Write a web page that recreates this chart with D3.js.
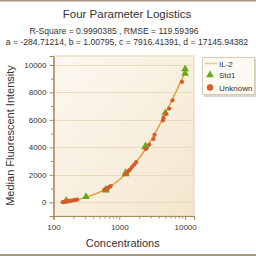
<!DOCTYPE html>
<html>
<head>
<meta charset="utf-8">
<script src="https://cdn.jsdelivr.net/npm/d3@7"></script>
<style>
  body { margin: 0; background: #fff; }
  svg { display: block; font-family: "Liberation Sans", Arial, sans-serif; }
  .tick text { fill: #333; }
</style>
</head>
<body>
<svg id="chart" width="256" height="256"></svg>
<script>
// SETUP: dimensions
const margin = { top: 56, right: 62, bottom: 40, left: 53.5 },
      width = 256 - margin.left - margin.right,
      height = 256 - margin.top - margin.bottom;

// DATA
// fitted IL-2 curve
const curveConc = [140, 200, 300, 500, 700, 1000, 1500, 2000, 3000, 4000, 5000, 6000, 7000, 8000, 9000, 10000];
const curveMfi  = [9, 133, 336, 730, 1106, 1641, 2461, 3200, 4479, 5545, 6448, 7222, 7891, 8477, 8993, 9452];

// Std1 triangles
const stdConc = [156, 156, 312, 625, 625, 1250, 1250, 2500, 2500, 5000, 10000, 10000];
const stdMfi  = [120, 90, 400, 880, 920, 2060, 2150, 4000, 4100, 6500, 9700, 9380];

// Unknown circles
const unkConc = [138, 145, 150, 158, 165, 172, 180, 190, 200, 215, 228,
                 590, 620, 660, 700, 740,
                 1230, 1300, 1380, 1450, 1560, 1680, 1800,
                 2535, 2845, 3310, 3430, 4600, 4700, 5110, 5730, 6440, 8940];
const unkMfi  = [5, 20, 40, 60, 70, 95, 110, 130, 140, 170, 190,
                 900, 960, 1010, 1100, 1180,
                 2040, 2150, 2280, 2380, 2560, 2740, 2920,
                 3870, 4180, 4600, 4910, 5960, 6140, 6430, 6820, 7420, 8760];

const yTicks = [0, 2000, 4000, 6000, 8000, 10000];
const xTicks = [100, 1000, 10000];
const legendLabels = ["IL-2", "Std1", "Unknown"];

const title = "Four Parameter Logistics";
const subtitle1 = "R-Square = 0.9990385 , RMSE = 119.59396";
const subtitle2 = "a = -284.71214, b = 1.00795, c = 7916.41391, d = 17145.94382";

const svg = d3.select("#chart");

// frame lines top and bottom
svg.append("rect").attr("x", 0).attr("y", 0).attr("width", 256).attr("height", 1.5).attr("fill", "#a89883");
svg.append("rect").attr("x", 0).attr("y", 254).attr("width", 256).attr("height", 2).attr("fill", "#a89883");

// titles
svg.append("text").attr("x", 127).attr("y", 18).attr("text-anchor", "middle")
    .attr("font-size", 11.5).attr("fill", "#333").text(title);
svg.append("text").attr("x", 114).attr("y", 34).attr("text-anchor", "middle")
    .attr("font-size", 8.6).attr("fill", "#333").text(subtitle1);
svg.append("text").attr("x", 127).attr("y", 45).attr("text-anchor", "middle")
    .attr("font-size", 8.6).attr("fill", "#333").text(subtitle2);

// background gradient
const defs = svg.append("defs");
const grad = defs.append("linearGradient").attr("id", "bg")
    .attr("x1", "0%").attr("y1", "0%").attr("x2", "100%").attr("y2", "100%");
grad.append("stop").attr("offset", "0%").attr("stop-color", "#fcf8f1");
grad.append("stop").attr("offset", "100%").attr("stop-color", "#f4e6cd");

const g = svg.append("g").attr("transform", `translate(${margin.left},${margin.top})`);

// SCALES
const x = d3.scaleLog().domain([100, 13650]).range([0, width]);
const y = d3.scaleLinear().domain([-1000, 10650]).range([height, 0]);

g.append("rect").attr("width", width).attr("height", height).attr("fill", "url(#bg)")
    .attr("stroke", "#e3d3b4").attr("stroke-width", 1);

// gridlines
g.selectAll(".grid").data(yTicks).enter().append("line")
    .attr("x1", 0).attr("x2", width)
    .attr("y1", d => Math.round(y(d)) + 0.5).attr("y2", d => Math.round(y(d)) + 0.5)
    .attr("stroke", "#e9dbbf").attr("stroke-width", 1);

// AXES
const axisColor = "#a8895c";
const yMinor = d3.range(-1000, 10001, 1000).filter(d => !yTicks.includes(d));
g.append("g").call(d3.axisLeft(y).tickValues(yMinor).tickSize(2.5).tickFormat(""))
    .call(a => a.selectAll("line,path").attr("stroke", axisColor));
g.append("g").call(d3.axisLeft(y).tickValues(yTicks).tickSize(4).tickPadding(3).tickFormat(d3.format("d")))
    .attr("font-size", 8).attr("font-family", null)
    .call(a => a.selectAll("line,path").attr("stroke", axisColor));

const xMinor = [];
[100, 1000, 10000].forEach(p => d3.range(2, 10).forEach(k => { if (p * k < 13650) xMinor.push(p * k); }));
g.append("g").attr("transform", `translate(0,${height})`)
    .call(d3.axisBottom(x).tickValues(xMinor).tickSize(2.5).tickFormat(""))
    .call(a => a.selectAll("line,path").attr("stroke", axisColor));
g.append("g").attr("transform", `translate(0,${height})`)
    .call(d3.axisBottom(x).tickValues(xTicks).tickSize(4).tickPadding(4).tickFormat(d3.format("d")))
    .attr("font-size", 8).attr("font-family", null)
    .call(a => a.selectAll("line,path").attr("stroke", axisColor));

// axis labels
g.append("text").attr("x", width / 2 - 1).attr("y", height + 31).attr("text-anchor", "middle")
    .attr("font-size", 11).attr("fill", "#333").text("Concentrations");
g.append("text").attr("transform", "rotate(-90)").attr("x", -(135.5 - margin.top)).attr("y", -39.5)
    .attr("text-anchor", "middle").attr("font-size", 11).attr("fill", "#333")
    .text("Median Fluorescent Intensity");

// curve
const curveData = curveConc.map((c, i) => ({ c, v: curveMfi[i] }));
const line = d3.line().x(d => x(d.c)).y(d => y(d.v)).curve(d3.curveMonotoneX);
g.append("path").datum(curveData).attr("d", line)
    .attr("fill", "none").attr("stroke", "#eaa040").attr("stroke-width", 1.5);

// triangles
const tri = d3.symbol().type(d3.symbolTriangle).size(26);
g.selectAll(".std").data(stdConc.map((c, i) => ({ c, v: stdMfi[i] }))).enter().append("path")
    .attr("d", tri).attr("transform", d => `translate(${x(d.c)},${y(d.v)})`)
    .attr("fill", "#6aa81e");

// circles
g.selectAll(".unk").data(unkConc.map((c, i) => ({ c, v: unkMfi[i] }))).enter().append("circle")
    .attr("cx", d => x(d.c)).attr("cy", d => y(d.v)).attr("r", 2.1)
    .attr("fill", "#d85a2a");

// LEGEND
const lg = svg.append("g").attr("transform", "translate(202,57)");
lg.append("rect").attr("x", 2).attr("y", 2).attr("width", 53).attr("height", 38).attr("fill", "#d9d4ca");
lg.append("rect").attr("x", 0.5).attr("y", 0.5).attr("width", 52).attr("height", 37)
    .attr("fill", "#fdfaf3").attr("stroke", "#dccdb0");
const ly = [6.5, 18, 30.5];
lg.append("line").attr("x1", 3).attr("x2", 15).attr("y1", ly[0]).attr("y2", ly[0])
    .attr("stroke", "#e8c68c").attr("stroke-width", 1.5);
lg.append("path").attr("d", tri).attr("transform", `translate(8,${ly[1]})`).attr("fill", "#6aa81e");
lg.append("circle").attr("cx", 8).attr("cy", ly[2]).attr("r", 3.2).attr("fill", "#d85a2a");
lg.selectAll(".lt").data(legendLabels).enter().append("text")
    .attr("x", 17).attr("y", (d, i) => ly[i] + 3)
    .attr("font-size", 8).attr("fill", "#333").text(d => d);
</script>
</body>
</html>
